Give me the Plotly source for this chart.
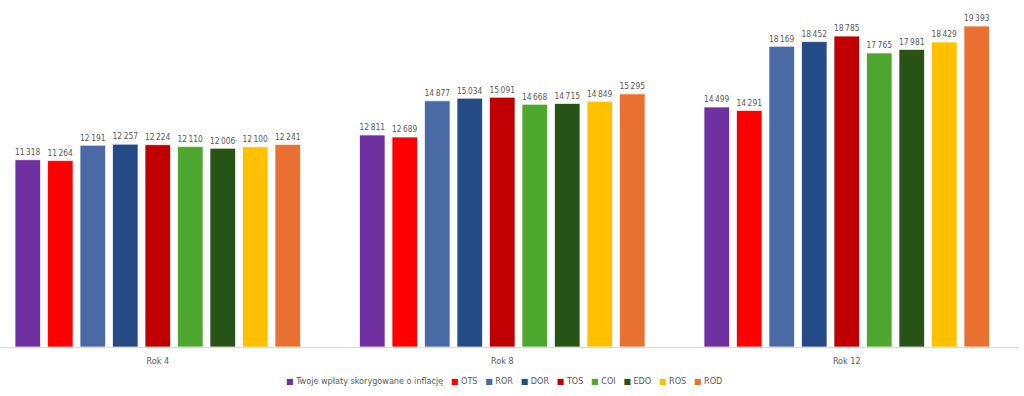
import plotly.graph_objects as go

categories = ["Rok 4", "Rok 8", "Rok 12"]
series_names = ["Twoje wpłaty skorygowane o inflację", "OTS", "ROR", "DOR", "TOS", "COI", "EDO", "ROS", "ROD"]
series_values = [
    [11318, 12811, 14499],
    [11264, 12689, 14291],
    [12191, 14877, 18169],
    [12257, 15034, 18452],
    [12224, 15091, 18785],
    [12110, 14668, 17765],
    [12006, 14715, 17981],
    [12100, 14849, 18429],
    [12241, 15295, 19393],
]
colors = ["#7030A0", "#FF0000", "#4A6AA6", "#254B86", "#C00000", "#4EA72E", "#275317", "#FFC000", "#E97132"]

FONT = "DejaVu Sans Condensed, Roboto, sans-serif"
GRAY = "#595959"


def fmt(v):
    return f"{v:,}".replace(",", "\u2009")


fig = go.Figure()
for name, vals, col in zip(series_names, series_values, colors):
    fig.add_trace(go.Bar(
        x=list(range(len(categories))),
        y=vals,
        name=name,
        marker=dict(color=col, line=dict(color="white", width=0.7)),
        text=[fmt(v) for v in vals],
        textposition="outside",
        textfont=dict(family=FONT, size=10, color=GRAY),
        cliponaxis=False,
        showlegend=False,
        hoverinfo="skip",
    ))

# compact legend line (squares + names), built from the series arrays
gap = "\u00a0" * 3
legend_text = gap.join(
    f"<span style='color:{c};font-size:8px;font-family:DejaVu Sans'>\u25A0</span>\u00a0{n}"
    for n, c in zip(series_names, colors)
)
fig.add_annotation(
    text=legend_text, xref="paper", yref="paper", x=0.495, y=-0.103,
    xanchor="center", yanchor="middle", showarrow=False,
    font=dict(family=FONT, size=9, color=GRAY),
)

fig.update_layout(
    width=1024, height=396,
    margin=dict(l=0, r=5, t=16, b=49, autoexpand=False),
    paper_bgcolor="white", plot_bgcolor="white",
    barmode="group", bargap=0.151, bargroupgap=0.215,
    showlegend=False,
    font=dict(family=FONT, color=GRAY),
)
fig.update_xaxes(
    tickmode="array", tickvals=list(range(len(categories))), ticktext=categories,
    range=[-0.458, 2.5], showline=True, linecolor="#D9D9D9", linewidth=1,
    showgrid=False, zeroline=False, ticks="", automargin=False, ticklabelstandoff=5,
    tickfont=dict(family=FONT, size=9, color=GRAY),
)
fig.update_yaxes(range=[0, 20000], visible=False, showgrid=False, zeroline=False, automargin=False)

fig.write_html("out.html", config={"displayModeBar": False},
               post_script="document.body.style.margin='0';")
